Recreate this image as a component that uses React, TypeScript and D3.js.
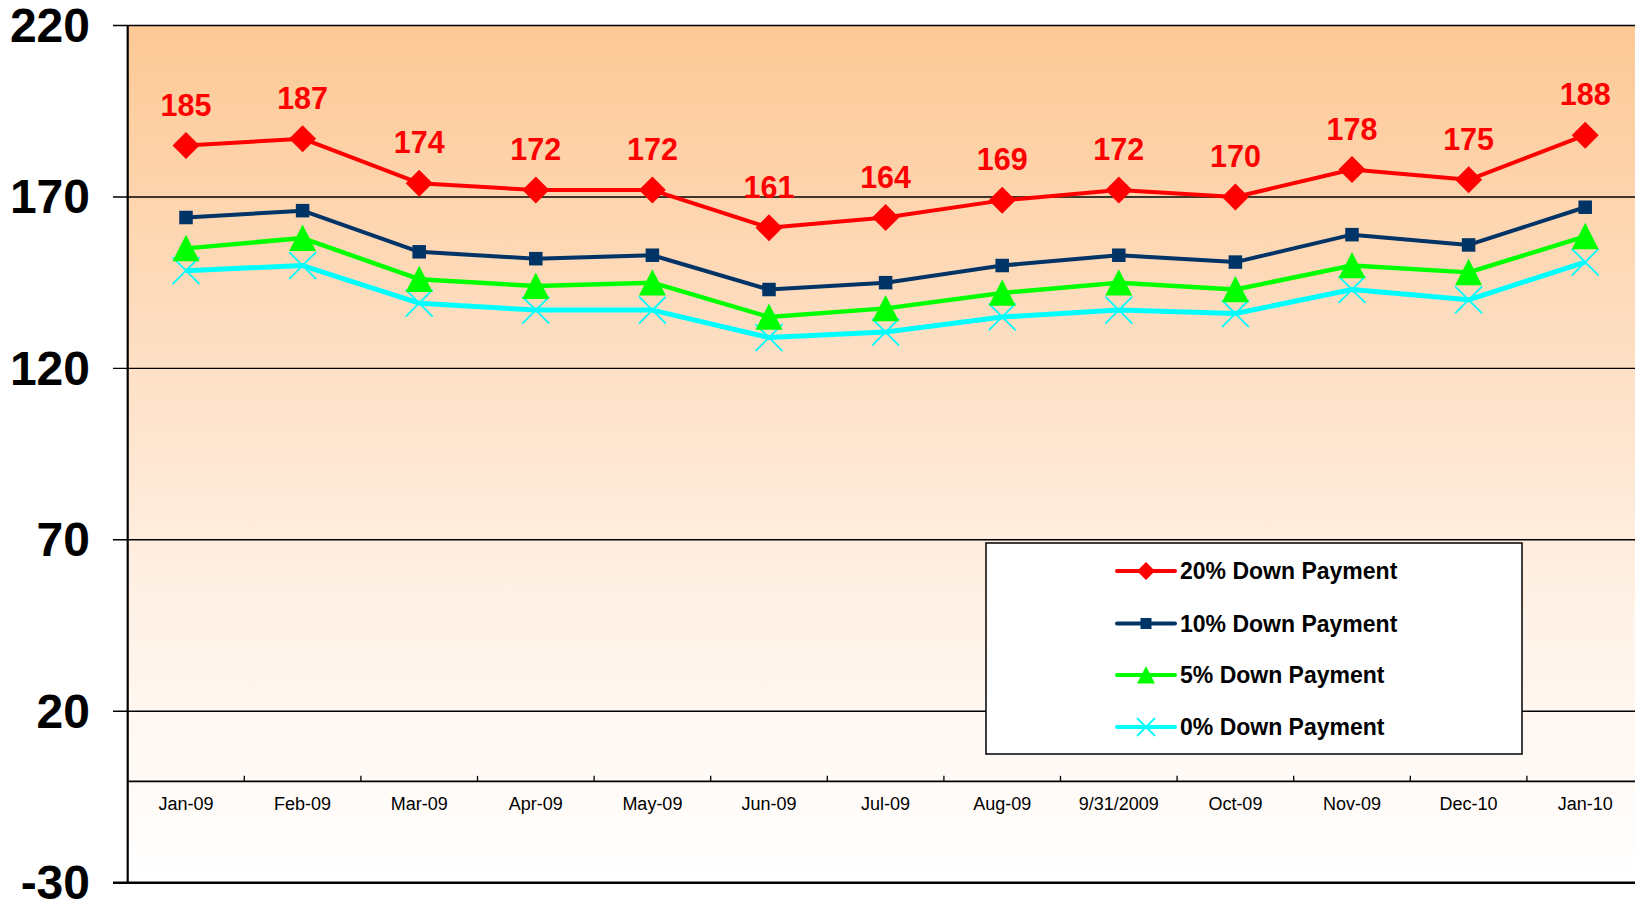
import React from "react";
import * as d3 from "d3";

const categories = ["Jan-09","Feb-09","Mar-09","Apr-09","May-09","Jun-09","Jul-09","Aug-09","9/31/2009","Oct-09","Nov-09","Dec-10","Jan-10"];
const down20 = [185,187,174,172,172,161,164,169,172,170,178,175,188];
const down10 = [164,166,154,152,153,143,145,150,153,151,159,156,167];
const down5 = [155,158,146,144,145,135,137.5,142,145,143,150,148,158.5];
const down0 = [148.5,150,139,137,137,129,130.6,135,137,136,143,140,151];
const yTicks = [-30,20,70,120,170,220];
const seriesNames = ["20% Down Payment","10% Down Payment","5% Down Payment","0% Down Payment"];

const W = 1635, H = 901;
const FONT = "'Liberation Sans', Arial, sans-serif";

type Marker = "diamond" | "square" | "triangle" | "x";
const seriesDefs: { name: string; values: number[]; color: string; marker: Marker; width: number }[] = [
  { name: seriesNames[0], values: down20, color: "#FF0000", marker: "diamond", width: 4 },
  { name: seriesNames[1], values: down10, color: "#003366", marker: "square", width: 4 },
  { name: seriesNames[2], values: down5, color: "#00FF00", marker: "triangle", width: 4.5 },
  { name: seriesNames[3], values: down0, color: "#00FFFF", marker: "x", width: 5 },
];

function MarkerShape({ kind, x, y, s, color }: { kind: Marker; x: number; y: number; s: number; color: string }) {
  if (kind === "diamond") {
    return <path d={`M${x},${y - s}L${x + s},${y}L${x},${y + s}L${x - s},${y}Z`} fill={color} />;
  }
  if (kind === "square") {
    const h = s * 0.5;
    return <rect x={x - h} y={y - h} width={h * 2} height={h * 2} fill={color} />;
  }
  if (kind === "triangle") {
    return <path d={`M${x},${y - s}L${x + s},${y + s * 0.95}L${x - s},${y + s * 0.95}Z`} fill={color} />;
  }
  return (
    <g stroke={color} strokeWidth={1.8}>
      <line x1={x - s} y1={y - s} x2={x + s} y2={y + s} />
      <line x1={x - s} y1={y + s} x2={x + s} y2={y - s} />
    </g>
  );
}

export default function App() {
  const left = 127.7;
  const bandW = 116.6;
  const x = d3.scaleBand<string>().domain(categories).range([left, left + bandW * categories.length]).padding(0);
  const y = d3.scaleLinear().domain([-30, 220]).range([882.7, 25.5]);
  const cx = (c: string) => (x(c) as number) + x.bandwidth() / 2;
  const line = d3.line<number>().x((_, i) => cx(categories[i])).y((v) => y(v));

  const legendRows = [571, 623.5, 675, 727];

  return (
    <svg width={W} height={H} style={{ position: "absolute", left: 0, top: 0, background: "#fff" }} fontFamily={FONT}>
      <defs>
        <linearGradient id="bg" x1="0" y1="0" x2="0" y2="1">
          <stop offset="0" stopColor="#FDC995" />
          <stop offset="0.4" stopColor="#FEE0C6" />
          <stop offset="0.65" stopColor="#FFF0E4" />
          <stop offset="0.88" stopColor="#FFFAF6" />
          <stop offset="1" stopColor="#FFFFFF" />
        </linearGradient>
      </defs>
      <rect x={left} y={y(220)} width={W - left} height={y(-30) - y(220)} fill="url(#bg)" />

      {/* gridlines */}
      {yTicks.filter((t) => t > -30).map((t) => (
        <line key={t} x1={113} x2={W} y1={y(t)} y2={y(t)} stroke="#000" strokeWidth={1.4} />
      ))}
      <line x1={113} x2={W} y1={y(-30)} y2={y(-30)} stroke="#000" strokeWidth={2.4} />
      {/* y labels */}
      {yTicks.map((t) => (
        <text key={t} x={90} y={y(t)} textAnchor="end" dominantBaseline="central" fontSize={48} fontWeight="bold" fill="#000">
          {t}
        </text>
      ))}
      {/* category axis */}
      <line x1={left} x2={W} y1={y(0) + 1.5} y2={y(0) + 1.5} stroke="#000" strokeWidth={1.8} />
      {categories.map((c, i) => (
        <line key={"t" + i} x1={(x(c) as number) + bandW} x2={(x(c) as number) + bandW} y1={y(0) + 1.5} y2={y(0) - 4} stroke="#000" strokeWidth={1.3} />
      ))}
      {categories.map((c) => (
        <text key={c} x={cx(c)} y={803.5} textAnchor="middle" dominantBaseline="central" fontSize={18} fill="#000">
          {c}
        </text>
      ))}
      <line x1={left} x2={left} y1={y(220)} y2={y(-30) + 1} stroke="#000" strokeWidth={2.2} />

      {/* series */}
      {seriesDefs.slice().reverse().map((s) => (
        <g key={s.name}>
          <path d={line(s.values) || ""} fill="none" stroke={s.color} strokeWidth={s.width} strokeLinejoin="round" />
          {s.values.map((v, i) => (
            <MarkerShape key={i} kind={s.marker} x={cx(categories[i])} y={y(v)} s={13.5} color={s.color} />
          ))}
        </g>
      ))}
      {down20.map((v, i) => (
        <text key={"l" + i} x={cx(categories[i])} y={y(v) - 30} textAnchor="middle" fontSize={30.5} fontWeight="bold" fill="#FF0000">
          {v}
        </text>
      ))}

      {/* legend */}
      <rect x={986} y={543} width={536} height={211} fill="#fff" stroke="#000" strokeWidth={1.5} />
      {seriesDefs.map((s, i) => (
        <g key={"lg" + i}>
          <line x1={1117} x2={1175} y1={legendRows[i]} y2={legendRows[i]} stroke={s.color} strokeWidth={4} strokeLinecap="round" />
          <MarkerShape kind={s.marker} x={1146} y={legendRows[i]} s={s.marker === "square" ? 11 : 9} color={s.color} />
          <text x={1180} y={legendRows[i]} dominantBaseline="central" fontSize={23} fontWeight="bold" fill="#000">
            {s.name}
          </text>
        </g>
      ))}
    </svg>
  );
}
